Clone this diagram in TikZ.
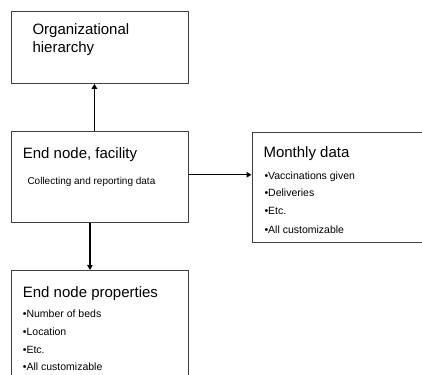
\documentclass[tikz,border=0pt]{standalone}
\usepackage{fontspec}
\setmainfont{Liberation Sans}
\usetikzlibrary{arrows.meta}
\begin{document}
\begin{tikzpicture}[x=1pt,y=-1pt,
  box/.style={draw=black!75,line width=0.9pt,rectangle,inner sep=0pt,anchor=north west},
  arr/.style={draw=black,line width=1.4pt,-{Triangle[length=5pt,width=5.5pt]}},
  title/.style={anchor=base west,inner sep=0pt,font=\fontsize{15}{18}\selectfont},
  item/.style={anchor=base west,inner sep=0pt,font=\fontsize{10.5}{12}\selectfont},
  note/.style={anchor=base west,inner sep=0pt,font=\fontsize{10}{12}\selectfont}]
\useasboundingbox (0,0) rectangle (422,374);
\begin{scope}
\clip (0,0) rectangle (422,374);
% boxes
\node[box,minimum width=176.5pt,minimum height=72pt] (hier) at (11,11) {};
\node[box,minimum width=176.5pt,minimum height=91pt] (fac) at (11,131) {};
\node[box,minimum width=175pt,minimum height=109.5pt] (month) at (251.5,132.5) {};
\node[box,minimum width=177pt,minimum height=120pt] (props) at (11,270) {};
\end{scope}
% texts
\node[title] (t1a) at (32.3,34.3) {Organizational};
\node[title] (t1b) at (32.3,52.3) {hierarchy};
\node[title] (t2) at (22.7,158) {End node, facility};
\node[note] (t2n) at (27.3,184) {Collecting and reporting data};
\node[title] (t3) at (263.3,157.7) {Monthly data};
\node[item] (t3a) at (264.3,179) {•Vaccinations given};
\node[item] (t3b) at (264.3,196.5) {•Deliveries};
\node[item] (t3c) at (264.3,214) {•Etc.};
\node[item] (t3d) at (264.3,233) {•All customizable};
\node[title] (t4) at (22.7,297) {End node properties};
\node[item] (t4a) at (22.7,317) {•Number of beds};
\node[item] (t4b) at (22.7,335) {•Location};
\node[item] (t4c) at (22.7,353) {•Etc.};
\node[item] (t4d) at (22.7,370.5) {•All customizable};
% connectors
\coordinate (up) at ([xshift=-5.25pt]fac.north);
\coordinate (down) at ([xshift=-9.75pt]fac.south);
\coordinate (right) at ([yshift=2.2pt]fac.east);
\draw[arr] (up) -- (up |- hier.south);
\draw[arr] (down) -- (down |- props.north);
\draw[arr] (right) -- (right -| month.west);
\end{tikzpicture}
\end{document}
